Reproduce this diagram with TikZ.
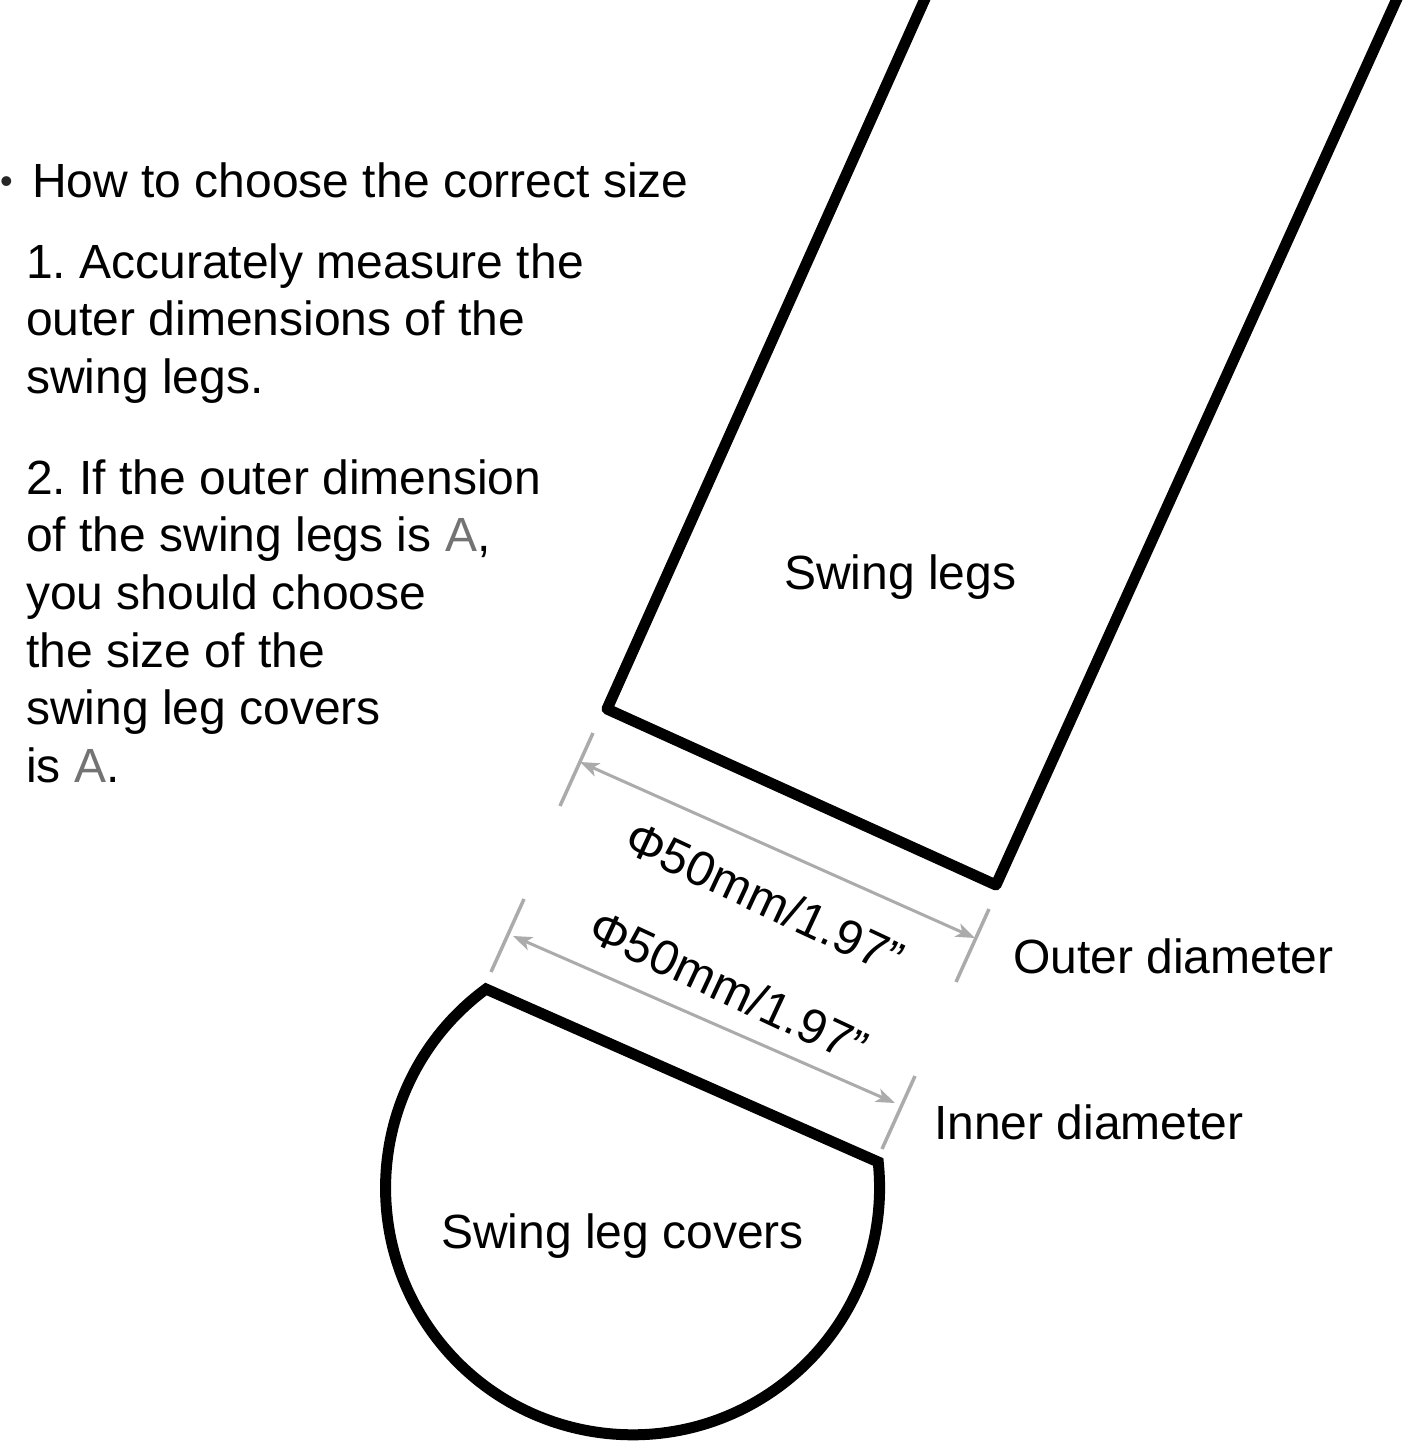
\documentclass[tikz,border=0pt]{standalone}
\usepackage{fontspec}
\usetikzlibrary{arrows.meta}
\setmainfont{Liberation Sans}
\begin{document}
\begin{tikzpicture}[x=1pt,y=-1pt,
 txt/.style={inner sep=0pt,anchor=base west,font=\fontsize{48}{48}\selectfont\frenchspacing,text=black},
 dotstyle/.style={inner sep=0pt,anchor=base west,font=\fontsize{36}{36}\selectfont,text=black!85},
 dimtxt/.style={inner sep=0pt,font=\fontsize{49}{49}\selectfont,rotate=-25},
 heavy/.style={draw=black,line width=11pt,line join=miter},
 dimline/.style={draw=black!33,line width=3.5pt},
 dimarrow/.style={draw=black!33,line width=3pt,{Stealth[length=19pt,width=14pt,inset=5pt]}-{Stealth[length=19pt,width=14pt,inset=5pt]}}]
\useasboundingbox (0,0) rectangle (1403,1443);
\coordinate (legTL) at (928,-8);
\coordinate (legBL) at (607,709);
\coordinate (legBR) at (996,885);
\coordinate (legTR) at (1400,-8);
\draw[heavy,line join=round] (legTL) -- (legBL) -- (legBR) -- (legTR);
\node[dotstyle] (t0) at (0,193) {•};
\node[txt] (t1) at (32,197) {How to choose the correct size};
\node[txt] (a1) at (26,278) {1. Accurately measure the};
\node[txt] (a2) at (26,335) {outer dimensions of the};
\node[txt] (a3) at (26,393) {swing legs.};
\node[txt] (b1) at (26,494) {2. If the outer dimension};
\node[txt] (b2) at (26,551) {of the swing legs is \textcolor{black!55}{A},};
\node[txt] (b3) at (26,609) {you should choose};
\node[txt] (b4) at (26,667) {the size of the};
\node[txt] (b5) at (26,724) {swing leg covers};
\node[txt] (b6) at (26,782) {is \textcolor{black!55}{A}.};
\node[txt] (l1) at (784,589) {Swing legs};
\node[txt] (l2) at (1013,973) {Outer diameter};
\node[txt] (l3) at (934,1139) {Inner diameter};
\node[txt] (l4) at (441,1248) {Swing leg covers};
\coordinate (o1a) at (593,733); \coordinate (o1b) at (560,806);
\coordinate (o2a) at (989,909); \coordinate (o2b) at (956,982);
\draw[dimline] (o1a) -- (o1b);
\draw[dimline] (o2a) -- (o2b);
\coordinate (oa) at (580,762); \coordinate (ob) at (975,938);
\draw[dimarrow] (oa) -- (ob);
\coordinate (i1a) at (524,899); \coordinate (i1b) at (491,972);
\coordinate (i2a) at (915,1076); \coordinate (i2b) at (882,1149);
\draw[dimline] (i1a) -- (i1b);
\draw[dimline] (i2a) -- (i2b);
\coordinate (ia) at (513,936); \coordinate (ib) at (895,1103);
\draw[dimarrow] (ia) -- (ib);
\node[dimtxt] (d1) at (765,898) {Φ50mm/1.97"};
\node[dimtxt] (d2) at (729,987) {Φ50mm/1.97"};
\coordinate (capA) at (486,989);
\draw[heavy] (capA) arc[start angle=126.4,end angle=366,radius=247pt] -- cycle;
\end{tikzpicture}
\end{document}
